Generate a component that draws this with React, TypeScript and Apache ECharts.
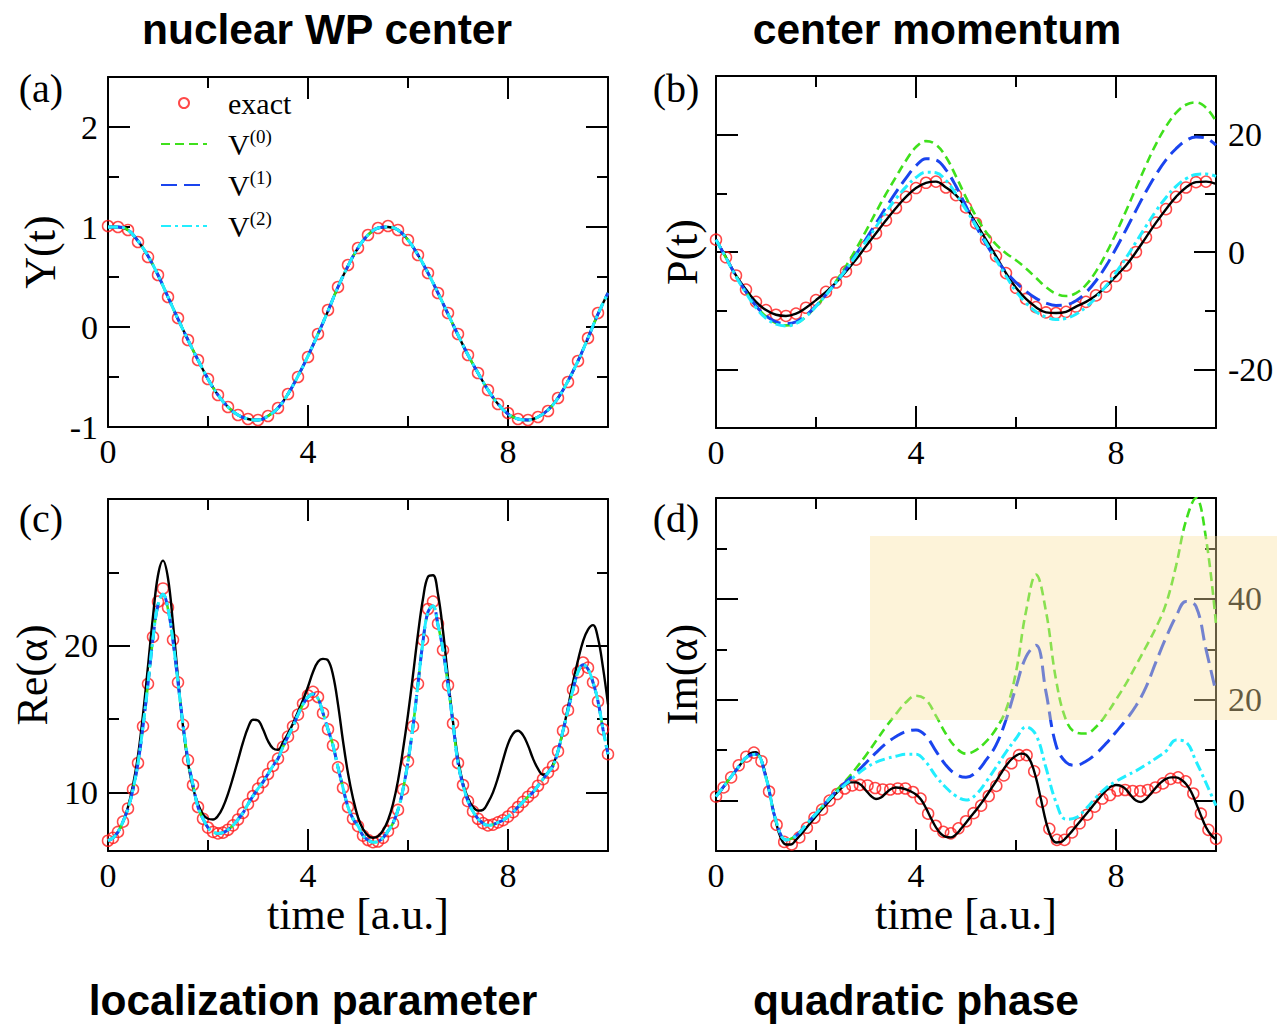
import React, { useEffect, useRef } from "react";
import * as echarts from "echarts";

const SERIF = '"Liberation Serif", "Times New Roman", Times, serif';
const SANS = '"Liberation Sans", Arial, Helvetica, sans-serif';
const GREEN = "#3fe01c";
const BLUE = "#1a44ee";
const CYAN = "#22eeff";
const RED = "#ff1a1a";

const STEP = 0.2;
const FINE = 0.1;
const STEP_D_EXACT = 10 / 66;

const X_MAJOR = [0, 4, 8];
const X_MINOR = [2, 6];

// (a) nuclear WP center, Y(t)
const yExact = [1.01, 1.0, 0.97, 0.85, 0.70, 0.52, 0.30, 0.09, -0.13, -0.33, -0.52, -0.68, -0.80, -0.88, -0.92, -0.93, -0.89, -0.81, -0.67, -0.50, -0.30, -0.07, 0.17, 0.40, 0.62, 0.79, 0.92, 0.99, 1.01, 0.97, 0.87, 0.72, 0.54, 0.34, 0.14, -0.07, -0.28, -0.46, -0.63, -0.77, -0.86, -0.92, -0.93, -0.90, -0.84, -0.71, -0.55, -0.34, -0.11, 0.14];
const yLines = [1.0, 1.0, 0.97, 0.86, 0.71, 0.52, 0.30, 0.08, -0.13, -0.33, -0.52, -0.68, -0.80, -0.88, -0.92, -0.93, -0.89, -0.81, -0.67, -0.49, -0.29, -0.07, 0.16, 0.40, 0.61, 0.79, 0.92, 0.99, 1.0, 0.97, 0.87, 0.72, 0.54, 0.34, 0.13, -0.08, -0.28, -0.46, -0.63, -0.77, -0.87, -0.92, -0.93, -0.90, -0.83, -0.71, -0.54, -0.34, -0.11, 0.13, 0.34];

// (b) center momentum, P(t)
const pExact = [2.1, -0.9, -4.0, -6.4, -8.5, -9.9, -10.7, -10.9, -10.5, -9.5, -8.2, -6.8, -5.2, -3.3, -1.3, 1.0, 3.2, 5.4, 7.5, 9.4, 10.9, 11.8, 12.0, 11.0, 9.7, 7.6, 4.9, 2.1, -0.7, -3.6, -6.1, -8.0, -9.4, -10.3, -10.4, -10.2, -9.3, -8.5, -7.4, -5.9, -4.1, -2.3, 0.0, 2.5, 5.0, 7.3, 9.4, 11.0, 11.9, 12.0];
const pBlack = [2.1, -0.9, -4.0, -6.4, -8.5, -9.9, -10.7, -10.9, -10.5, -9.5, -8.2, -6.8, -5.2, -3.3, -1.3, 1.0, 3.2, 5.4, 7.5, 9.4, 10.9, 11.8, 12.0, 11.0, 9.7, 7.6, 4.9, 2.1, -0.7, -3.6, -6.1, -8.0, -9.4, -10.3, -10.4, -10.2, -9.3, -8.5, -7.4, -5.9, -4.1, -2.3, 0.0, 2.5, 5.0, 7.3, 9.4, 11.0, 11.9, 12.0, 11.6];
const pV0 = [2.1, -1.0, -4.1, -6.8, -9.2, -11.0, -12.1, -12.5, -12.2, -11.0, -9.3, -7.3, -5.0, -2.4, 0.5, 3.6, 6.8, 9.9, 12.8, 15.6, 17.9, 18.9, 18.3, 16.2, 12.9, 9.3, 6.1, 3.4, 1.3, -0.2, -1.4, -2.8, -4.4, -6.0, -7.1, -7.5, -7.0, -5.6, -3.3, -0.3, 3.2, 7.0, 10.9, 14.8, 18.4, 21.4, 23.7, 25.1, 25.5, 24.6, 22.3];
const pV1 = [2.1, -1.0, -4.1, -6.8, -9.2, -10.9, -11.9, -12.2, -11.9, -10.8, -9.2, -7.3, -5.2, -2.9, -0.4, 2.2, 4.9, 7.6, 10.2, 12.6, 14.7, 15.9, 15.7, 14.0, 11.2, 7.8, 4.4, 1.4, -1.2, -3.4, -5.2, -6.7, -7.9, -8.7, -9.1, -9.0, -8.3, -6.9, -4.9, -2.4, 0.6, 3.8, 7.1, 10.3, 13.2, 15.7, 17.6, 19.0, 19.6, 19.4, 18.2];
const pV2 = [2.1, -1.0, -4.2, -7.0, -9.5, -11.3, -12.3, -12.6, -12.2, -11.0, -9.3, -7.3, -5.2, -3.0, -0.6, 1.8, 4.3, 6.8, 9.1, 11.1, 12.7, 13.6, 13.5, 12.2, 9.9, 7.2, 4.5, 1.6, -1.3, -4.1, -6.7, -8.7, -10.2, -11.1, -11.5, -11.3, -10.6, -9.4, -7.8, -5.8, -3.5, -1.0, 1.7, 4.4, 7.0, 9.3, 11.2, 12.5, 13.2, 13.3, 12.9];

// (c) localization parameter, Re(alpha)
const reExact = [6.7, 6.9, 7.3, 8.0, 8.9, 10.2, 12.0, 14.5, 17.4, 20.6, 23.0, 23.9, 22.6, 20.4, 17.5, 14.6, 12.2, 10.5, 9.0, 8.2, 7.6, 7.3, 7.2, 7.25, 7.45, 7.75, 8.15, 8.6, 9.2, 9.75, 10.25, 10.7, 11.25, 11.8, 12.3, 13.1, 13.8, 14.5, 15.3, 16.05, 16.6, 16.85, 16.5, 15.4, 14.3, 13.2, 11.7, 10.3, 9.0, 8.2, 7.7, 7.05, 6.75, 6.6, 6.65, 6.9, 7.35, 7.9, 8.8, 10.2, 12.1, 14.5, 17.4, 20.4, 22.5, 23.0, 21.5, 19.7, 17.3, 14.7, 12.0, 10.5, 9.4, 8.7, 8.2, 7.9, 7.75, 7.8, 7.95, 8.1, 8.35, 8.65, 9.0, 9.35, 9.7, 10.0, 10.45, 10.9, 11.35, 11.8, 12.8, 14.2, 15.6, 17.0, 18.2, 18.85, 18.5, 17.5, 16.2, 14.3, 12.6];
const reBlack = [6.7, 6.9, 7.3, 8.0, 9.0, 10.5, 12.5, 15.3, 18.6, 22.0, 24.8, 25.8, 24.6, 21.5, 17.8, 14.5, 12.0, 10.3, 9.2, 8.5, 8.2, 8.15, 8.4, 9.0, 9.9, 11.0, 12.2, 13.4, 14.4, 14.95, 14.9, 14.3, 13.5, 13.0, 12.9, 13.4, 14.0, 14.7, 15.5, 16.3, 17.2, 18.2, 18.9, 19.1, 19.0, 18.0, 16.0, 13.5, 11.3, 9.6, 8.3, 7.5, 7.05, 6.9, 7.0, 7.4, 8.1, 9.2, 10.8, 12.9, 15.3, 18.0, 20.8, 23.2, 24.7, 24.8, 23.5, 21.0, 17.8, 14.8, 12.3, 10.6, 9.6, 9.0, 8.75, 8.8, 9.3, 10.0, 11.0, 12.2, 13.3, 14.0, 14.2, 13.9, 13.2, 12.3, 11.6, 11.2, 11.35, 11.9, 12.8, 14.2, 15.8, 17.5, 19.0, 20.3, 21.1, 21.4, 20.5, 18.5, 16.0];
const reV = [6.7, 6.9, 7.3, 8.0, 8.9, 10.2, 12.0, 14.5, 17.4, 20.5, 22.8, 23.5, 22.5, 20.3, 17.5, 14.6, 12.2, 10.5, 9.0, 8.2, 7.6, 7.3, 7.2, 7.25, 7.45, 7.75, 8.15, 8.6, 9.2, 9.75, 10.25, 10.7, 11.25, 11.8, 12.3, 13.1, 13.8, 14.5, 15.3, 16.0, 16.5, 16.7, 16.4, 15.4, 14.3, 13.2, 11.7, 10.3, 9.0, 8.2, 7.7, 7.05, 6.75, 6.6, 6.65, 6.9, 7.35, 7.9, 8.8, 10.2, 12.1, 14.5, 17.4, 20.3, 22.3, 22.7, 21.4, 19.7, 17.3, 14.7, 12.0, 10.5, 9.4, 8.7, 8.2, 7.9, 7.75, 7.8, 7.95, 8.1, 8.35, 8.65, 9.0, 9.35, 9.7, 10.0, 10.45, 10.9, 11.35, 11.8, 12.8, 14.2, 15.6, 17.0, 18.2, 18.7, 18.4, 17.5, 16.2, 14.3, 12.6];

// (d) quadratic phase, Im(alpha)
const imExact = [0.8, 2.6, 4.6, 7.0, 8.7, 9.5, 7.8, 1.8, -4.8, -8.2, -8.7, -7.3, -5.4, -3.4, -1.8, 0.0, 1.3, 2.4, 3.0, 3.1, 3.0, 2.5, 2.2, 2.2, 2.4, 2.4, 1.7, 0.4, -2.6, -5.0, -6.2, -6.5, -5.5, -4.1, -2.5, -1.0, 0.9, 2.9, 5.0, 7.4, 9.0, 9.0, 5.8, -0.2, -5.6, -7.8, -7.8, -6.3, -4.5, -2.8, -1.2, 0.4, 1.1, 2.0, 2.1, 1.9, 1.9, 2.1, 2.6, 3.4, 4.3, 4.6, 3.8, 1.4, -2.6, -5.8, -7.6];
const imBlack = [0.8, 2.0, 3.4, 4.7, 6.0, 7.3, 8.5, 9.4, 9.6, 8.2, 4.8, 0.2, -4.3, -7.5, -8.7, -8.7, -7.8, -6.7, -5.5, -4.3, -3.1, -1.9, -0.8, 0.3, 1.4, 2.4, 3.2, 3.6, 3.6, 3.1, 2.0, 0.9, 0.3, 0.6, 1.5, 2.3, 2.6, 2.5, 2.2, 1.8, 1.2, 0.2, -1.5, -3.5, -5.3, -6.6, -7.2, -7.3, -6.7, -5.6, -4.4, -3.1, -1.9, -0.6, 0.8, 2.3, 3.8, 5.4, 6.9, 8.1, 8.9, 9.3, 9.1, 7.6, 4.5, 0.2, -4.2, -7.2, -8.3, -8.2, -7.4, -6.3, -5.1, -3.9, -2.7, -1.5, -0.3, 0.9, 2.0, 2.8, 3.1, 2.9, 2.2, 1.0, 0.0, -0.3, 0.3, 1.4, 2.6, 3.6, 4.3, 4.6, 4.6, 4.2, 3.3, 1.8, -0.5, -3.0, -5.3, -6.8, -7.7];
const imV0 = [0.8, 3.4, 6.0, 8.5, 9.2, 4.5, -4.0, -7.8, -7.0, -4.8, -2.6, -0.4, 1.9, 4.0, 6.4, 9.0, 11.8, 14.6, 17.2, 19.5, 20.8, 20.0, 16.8, 13.2, 10.5, 9.3, 10.0, 11.7, 14.2, 18.0, 25.5, 37.5, 44.8, 37.5, 24.0, 16.0, 13.5, 13.3, 14.6, 17.0, 20.0, 23.2, 26.8, 30.5, 34.3, 39.0, 46.5, 55.5, 60.0, 52.0, 35.0];
const imV1 = [0.8, 3.4, 6.0, 8.5, 9.2, 4.5, -4.0, -7.8, -7.0, -4.8, -2.6, -0.4, 1.8, 3.7, 5.5, 7.5, 9.5, 11.3, 12.7, 13.7, 14.0, 12.8, 9.8, 7.0, 5.2, 4.6, 5.6, 8.0, 11.0, 16.0, 22.5, 28.5, 30.8, 21.5, 11.0, 7.6, 7.0, 7.8, 9.3, 11.3, 13.6, 16.0, 18.8, 22.5, 27.5, 32.3, 36.5, 39.5, 38.5, 30.0, 21.5];
const imV2 = [0.8, 3.4, 6.0, 8.5, 9.2, 4.5, -4.0, -7.8, -7.0, -4.8, -2.6, -0.4, 1.6, 3.3, 5.0, 6.5, 7.6, 8.3, 8.8, 9.2, 9.2, 7.6, 4.8, 2.6, 0.9, 0.1, 1.2, 3.7, 6.6, 9.6, 12.3, 14.6, 13.0, 6.5, -0.3, -3.7, -3.4, -1.6, 0.6, 2.5, 3.8, 4.9, 5.9, 7.1, 8.4, 9.8, 12.0, 11.6, 7.8, 3.5, -1.0];

const xy = (vals: number[], step: number) =>
  vals.map((v, i) => [Math.round(i * step * 10000) / 10000, v]);

type Panel = {
  grid: { left: number; top: number; width: number; height: number };
  yMin: number;
  yMax: number;
  yMajor: number[];
  yMinor: number[];
  labelsRight: boolean;
  yName: string;
  yNameGap: number;
  xName: string;
  exact: number[][];
  black: number[][];
  v0: number[][];
  v1: number[][];
  v2: number[][];
};

const PANELS: Panel[] = [
  {
    grid: { left: 108, top: 77, width: 500, height: 350 },
    yMin: -1, yMax: 2.5, yMajor: [-1, 0, 1, 2], yMinor: [-0.5, 0.5, 1.5],
    labelsRight: false, yName: "Y(t)", yNameGap: 46, xName: "",
    exact: xy(yExact, STEP), black: xy(yLines, STEP), v0: xy(yLines, STEP), v1: xy(yLines, STEP), v2: xy(yLines, STEP),
  },
  {
    grid: { left: 716, top: 76, width: 500, height: 352 },
    yMin: -30, yMax: 30, yMajor: [-20, 0, 20], yMinor: [-10, 10],
    labelsRight: true, yName: "P(t)", yNameGap: 12, xName: "",
    exact: xy(pExact, STEP), black: xy(pBlack, STEP), v0: xy(pV0, STEP), v1: xy(pV1, STEP), v2: xy(pV2, STEP),
  },
  {
    grid: { left: 108, top: 499, width: 500, height: 352 },
    yMin: 6, yMax: 30, yMajor: [10, 20], yMinor: [15, 25],
    labelsRight: false, yName: "Re(α)", yNameGap: 54, xName: "time [a.u.]",
    exact: xy(reExact, FINE), black: xy(reBlack, FINE), v0: xy(reV, FINE), v1: xy(reV, FINE), v2: xy(reV, FINE),
  },
  {
    grid: { left: 716, top: 498, width: 500, height: 353 },
    yMin: -10, yMax: 60, yMajor: [0, 20, 40], yMinor: [10, 30, 50],
    labelsRight: true, yName: "Im(α)", yNameGap: 12, xName: "time [a.u.]",
    exact: xy(imExact, STEP_D_EXACT), black: xy(imBlack, FINE), v0: xy(imV0, STEP), v1: xy(imV1, STEP), v2: xy(imV2, STEP),
  },
];

const MAJOR_LEN = 22;
const MINOR_LEN = 11;

function buildOption() {
  const axisLine = { show: true, onZero: false, lineStyle: { color: "#000", width: 2 } };
  const noLine = { show: false, onZero: false };
  const tick = (vals: number[], len: number) => ({
    show: true, inside: true, length: len, customValues: vals,
    lineStyle: { color: "#000", width: 2 },
  });
  const label = (vals: number[], margin: number) => ({
    show: true, customValues: vals, fontFamily: SERIF, fontSize: 34, color: "#000", margin,
  });
  const nameStyle = { fontFamily: SERIF, fontSize: 44, color: "#000" };

  const xAxis: any[] = [];
  const yAxis: any[] = [];
  const series: any[] = [];

  PANELS.forEach((p, g) => {
    const xb = { type: "value", gridIndex: g, min: 0, max: 10, splitLine: { show: false } };
    xAxis.push(
      { ...xb, position: "bottom", axisLine, axisTick: tick(X_MAJOR, MAJOR_LEN), axisLabel: label(X_MAJOR, 7),
        name: p.xName, nameLocation: "middle", nameGap: 40, nameTextStyle: nameStyle },
      { ...xb, position: "bottom", axisLine: noLine, axisTick: tick(X_MINOR, MINOR_LEN), axisLabel: { show: false } },
      { ...xb, position: "top", axisLine, axisTick: tick(X_MAJOR, MAJOR_LEN), axisLabel: { show: false } },
      { ...xb, position: "top", axisLine: noLine, axisTick: tick(X_MINOR, MINOR_LEN), axisLabel: { show: false } },
    );
    const yb = { type: "value", gridIndex: g, min: p.yMin, max: p.yMax, splitLine: { show: false } };
    yAxis.push(
      { ...yb, position: "left", axisLine, axisTick: tick(p.yMajor, MAJOR_LEN),
        axisLabel: p.labelsRight ? { show: false } : label(p.yMajor, 10),
        name: p.yName, nameLocation: "middle", nameRotate: 90, nameGap: p.yNameGap, nameTextStyle: nameStyle },
      { ...yb, position: "left", axisLine: noLine, axisTick: tick(p.yMinor, MINOR_LEN), axisLabel: { show: false } },
      { ...yb, position: "right", axisLine, axisTick: tick(p.yMajor, MAJOR_LEN),
        axisLabel: p.labelsRight ? label(p.yMajor, 12) : { show: false } },
      { ...yb, position: "right", axisLine: noLine, axisTick: tick(p.yMinor, MINOR_LEN), axisLabel: { show: false } },
    );
    const ax = { xAxisIndex: 4 * g, yAxisIndex: 4 * g };
    series.push(
      {
        ...ax, type: "scatter", name: "exact", data: p.exact, symbol: "circle", symbolSize: 11,
        itemStyle: { color: "rgba(255,255,255,0)", borderColor: RED, borderWidth: 1.5 }, z: 2,
      },
      {
        ...ax, type: "line", name: "reference", data: p.black, symbol: "none", smooth: 0.4,
        lineStyle: { color: "#000", width: 2.4 }, z: 3,
      },
      {
        ...ax, type: "line", name: "V(0)", data: p.v0, symbol: "none", smooth: 0.4,
        lineStyle: { color: GREEN, width: 2.6, type: [9, 5] }, itemStyle: { color: GREEN }, z: 4,
      },
      {
        ...ax, type: "line", name: "V(1)", data: p.v1, symbol: "none", smooth: 0.4,
        lineStyle: { color: BLUE, width: 3, type: [16, 7] }, itemStyle: { color: BLUE }, z: 5,
      },
      {
        ...ax, type: "line", name: "V(2)", data: p.v2, symbol: "none", smooth: 0.4,
        lineStyle: { color: CYAN, width: 3, type: [10, 4, 3, 4] }, itemStyle: { color: CYAN }, z: 6,
      },
    );
  });

  const txt = (text: string, x: number, y: number, font: string) => ({
    type: "text", x, y, silent: true,
    style: { text, font, fill: "#000", align: "center", verticalAlign: "middle" },
  });
  const hiddenDot = { opacity: 0, color: "rgba(0,0,0,0)", borderWidth: 0 };

  return {
    animation: false,
    backgroundColor: "#fff",
    grid: PANELS.map((p) => ({ ...p.grid, containLabel: false })),
    xAxis,
    yAxis,
    series,
    legend: {
      show: true,
      orient: "vertical",
      left: 155,
      top: 83,
      itemWidth: 46,
      itemHeight: 10,
      itemGap: 9,
      selectedMode: false,
      data: [
        { name: "exact" },
        { name: "V(0)", itemStyle: hiddenDot },
        { name: "V(1)", itemStyle: hiddenDot },
        { name: "V(2)", itemStyle: hiddenDot },
      ],
      formatter: (name: string) => (name === "exact" ? "{v|exact}" : `{v|V}{s|${name.slice(1)}}`),
      textStyle: {
        color: "#000",
        padding: [0, 0, 0, 16],
        rich: {
          v: { fontFamily: SERIF, fontSize: 30, lineHeight: 34, color: "#000" },
          s: { fontFamily: SERIF, fontSize: 19, lineHeight: 19, verticalAlign: "top", color: "#000" },
        },
      },
    },
    graphic: [
      txt("nuclear WP center", 327, 29, `bold 42.5px ${SANS}`),
      txt("center momentum", 937, 29, `bold 42.5px ${SANS}`),
      txt("localization parameter", 313, 1000, `bold 42.5px ${SANS}`),
      txt("quadratic phase", 916, 1000, `bold 42.5px ${SANS}`),
      txt("(a)", 41, 88, `40px ${SERIF}`),
      txt("(b)", 676, 88, `40px ${SERIF}`),
      txt("(c)", 41, 518, `40px ${SERIF}`),
      txt("(d)", 676, 518, `40px ${SERIF}`),
      {
        type: "rect", z: 100, silent: true,
        shape: { x: 870, y: 536, width: 407, height: 184 },
        style: { fill: "rgba(250,225,160,0.4)" },
      },
    ],
  };
}

export default function App() {
  const ref = useRef<HTMLDivElement>(null);
  useEffect(() => {
    if (!ref.current) return;
    const chart = echarts.init(ref.current, undefined, { renderer: "svg" });
    chart.setOption(buildOption() as any);
    return () => chart.dispose();
  }, []);
  return (
    <div
      ref={ref}
      style={{ position: "fixed", left: 0, top: 0, width: 1277, height: 1024, background: "#fff" }}
    />
  );
}
